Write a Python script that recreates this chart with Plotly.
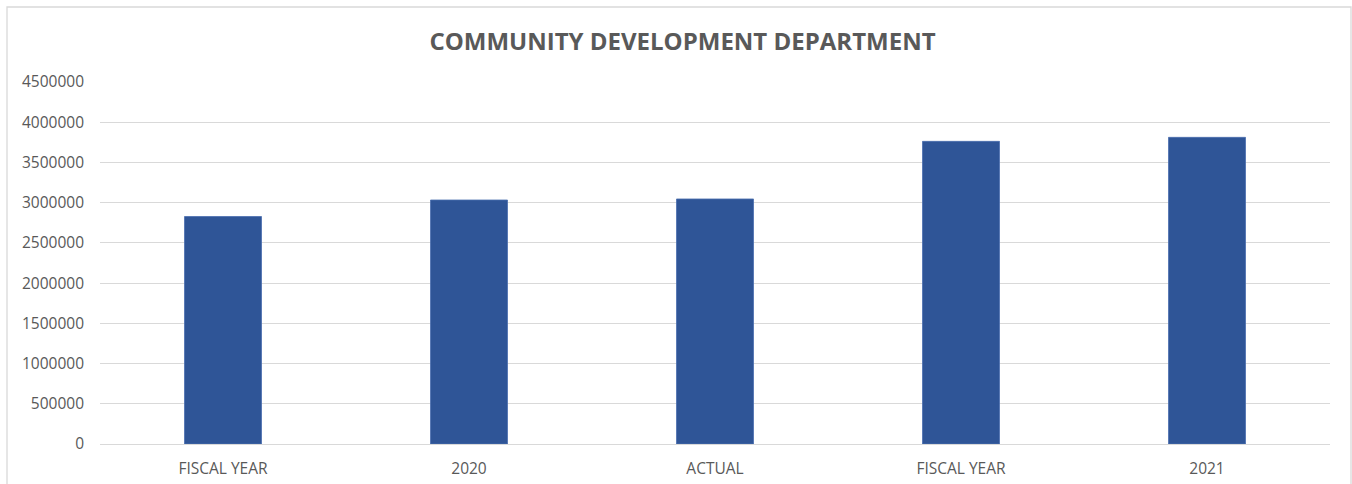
import plotly.graph_objects as go

# Department spending by period
categories = ["FISCAL YEAR", "2020", "ACTUAL", "FISCAL YEAR", "2021"]
amounts = [2828000, 3033000, 3046000, 3762000, 3812000]
y_ticks = [0, 500000, 1000000, 1500000, 2000000, 2500000, 3000000, 3500000, 4000000, 4500000]

W, H = 1352, 484
L, R, T, B = 100, 22, 82, 40
positions = list(range(len(categories)))

fig = go.Figure(
    go.Bar(
        x=positions,
        y=amounts,
        width=0.313,
        marker=dict(color="#2f5597", line=dict(color="#4a6fae", width=0.8)),
        hoverinfo="y",
    )
)

# Light outer frame of the chart area (bottom edge runs off the page)
pw, ph = W - L - R, H - T - B
fig.add_shape(
    type="rect", xref="paper", yref="paper",
    x0=(7 - L) / pw, x1=(1351 - L) / pw,
    y0=-(B + 10) / ph, y1=(H - 7 - B) / ph,
    line=dict(color="#d9d9d9", width=1.3), fillcolor="rgba(0,0,0,0)", layer="below",
)

fig.update_layout(
    width=W, height=H,
    margin=dict(l=L, r=R, t=T, b=B),
    paper_bgcolor="white", plot_bgcolor="white",
    showlegend=False,
    title=dict(
        text="<b>COMMUNITY DEVELOPMENT DEPARTMENT</b>",
        xref="container", x=682.5 / W, xanchor="center",
        y=1 - 42 / H, yanchor="middle",
        font=dict(family="Open Sans", size=24, color="#595959"),
    ),
    font=dict(family="Open Sans", color="#595959"),
    bargap=0.69,
)

fig.update_xaxes(
    range=[-0.5, len(categories) - 0.5],
    tickvals=positions, ticktext=categories,
    tickfont=dict(size=15.5, color="#595959"),
    showgrid=False, zeroline=False, showline=False, ticks="",
    ticklabelstandoff=13, automargin=False,
)
fig.update_yaxes(
    range=[0, 4500000],
    tickvals=y_ticks, ticktext=[str(v) for v in y_ticks],
    tickfont=dict(size=15.5, color="#595959"),
    showgrid=True, gridcolor="#d9d9d9", gridwidth=1.3,
    zeroline=True, zerolinecolor="#d9d9d9", zerolinewidth=1.3,
    showline=False, ticks="", ticklabelstandoff=15, automargin=False,
)

fig.write_html("out.html")
